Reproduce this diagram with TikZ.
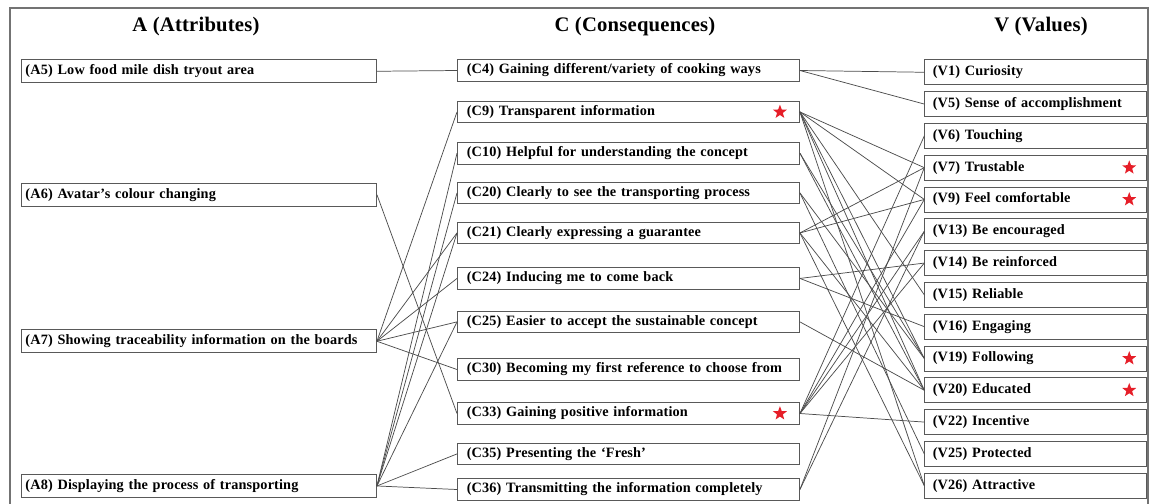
\documentclass[tikz,border=0pt]{standalone}
\usepackage{fontspec}
\setmainfont{Liberation Serif}[LetterSpace=1]
\usetikzlibrary{shapes.geometric}
\definecolor{starred}{RGB}{230,30,40}

\begin{document}
\begin{tikzpicture}[x=0.75pt,y=0.75pt,yscale=-1,xscale=1,
	box/.style={draw=black!65, line width=0.7pt, anchor=north west, align=left, font=\bfseries\fontsize{10.7}{12}\selectfont},
	abox/.style={box, inner xsep=3pt, text width=260.25pt, minimum height=17.25pt},
	cbox/.style={box, inner xsep=7pt, text width=242.5pt, minimum height=15pt},
	vbox/.style={box, inner xsep=6pt, text width=154.5pt, minimum height=18.75pt},
	hdr/.style={font=\bfseries\fontsize{15.5}{18}\selectfont},
	redstar/.style={star, star points=5, star point ratio=2.4, fill=starred, inner sep=0pt, minimum size=11pt},
	link/.style={draw=black!70, line width=0.55pt}]
	\useasboundingbox (0,0) rectangle (1152,503);

	%Frame
	\draw [black!55, line width=1pt] (10,520) -- (10,8) -- (1148,8) -- (1148,520) ;

	% Headers
	\node [hdr] (hA) at (196,27) {A (Attributes)};
	\node [hdr] (hC) at (635,27) {C (Consequences)};
	\node [hdr] (hV) at (1041,27) {V (Values)};

	% Attributes
	\node [abox] (A5) at (21,59.3) {(A5) Low food mile dish tryout area};
	\node [abox] (A6) at (21,182.7) {(A6) Avatar's colour changing};
	\node [abox] (A7) at (21,329.3) {(A7) Showing traceability information on the boards};
	\node [abox] (A8) at (21,474) {(A8) Displaying the process of transporting};

	% Consequences
	\node [cbox] (C4) at (457,59) {(C4) Gaining different/variety of cooking ways};
	\node [cbox] (C9) at (457,100.5) {(C9) Transparent information};
	\node [cbox] (C10) at (457,141.7) {(C10) Helpful for understanding the concept};
	\node [cbox] (C20) at (457,181.5) {(C20) Clearly to see the transporting process};
	\node [cbox] (C21) at (457,221.5) {(C21) Clearly expressing a guarantee};
	\node [cbox] (C24) at (457,267) {(C24) Inducing me to come back};
	\node [cbox] (C25) at (457,310.5) {(C25) Easier to accept the sustainable concept};
	\node [cbox] (C30) at (457,358) {(C30) Becoming my first reference to choose from};
	\node [cbox] (C33) at (457,402) {(C33) Gaining positive information};
	\node [cbox] (C35) at (457,442.5) {(C35) Presenting the `Fresh'};
	\node [cbox] (C36) at (457,478) {(C36) Transmitting the information completely};

	% Values
	\node [vbox] (V1) at (924.3,59.3) {(V1) Curiosity};
	\node [vbox] (V5) at (924.3,91.1) {(V5) Sense of accomplishment};
	\node [vbox] (V6) at (924.3,122.9) {(V6) Touching};
	\node [vbox] (V7) at (924.3,154.7) {(V7) Trustable};
	\node [vbox] (V9) at (924.3,186.5) {(V9) Feel comfortable};
	\node [vbox] (V13) at (924.3,218.3) {(V13) Be encouraged};
	\node [vbox] (V14) at (924.3,250.1) {(V14) Be reinforced};
	\node [vbox] (V15) at (924.3,281.9) {(V15) Reliable};
	\node [vbox] (V16) at (924.3,313.7) {(V16) Engaging};
	\node [vbox] (V19) at (924.3,345.5) {(V19) Following};
	\node [vbox] (V20) at (924.3,377.3) {(V20) Educated};
	\node [vbox] (V22) at (924.3,409.1) {(V22) Incentive};
	\node [vbox] (V25) at (924.3,440.9) {(V25) Protected};
	\node [vbox] (V26) at (924.3,472.7) {(V26) Attractive};

	% Stars
	\node [redstar] (sC9) at ([xshift=-15pt]C9.east) {};
	\node [redstar] (sC33) at ([xshift=-15pt]C33.east) {};
	\node [redstar] (sV7) at ([xshift=-13.5pt]V7.east) {};
	\node [redstar] (sV9) at ([xshift=-13.5pt]V9.east) {};
	\node [redstar] (sV19) at ([xshift=-13.5pt]V19.east) {};
	\node [redstar] (sV20) at ([xshift=-13.5pt]V20.east) {};

	% A -- C links
	\draw [link] (A5.east) -- (C4.west) ;
	\draw [link] (A6.east) -- (C33.west) ;
	\draw [link] (A7.east) -- (C9.west) ;
	\draw [link] (A7.east) -- (C21.west) ;
	\draw [link] (A7.east) -- (C24.west) ;
	\draw [link] (A7.east) -- (C25.west) ;
	\draw [link] (A7.east) -- (C30.west) ;
	\draw [link] (A8.east) -- (C10.west) ;
	\draw [link] (A8.east) -- (C20.west) ;
	\draw [link] (A8.east) -- (C21.west) ;
	\draw [link] (A8.east) -- (C25.west) ;
	\draw [link] (A8.east) -- (C35.west) ;
	\draw [link] (A8.east) -- (C36.west) ;

	% C -- V links
	\draw [link] (C4.east) -- (V1.west) ;
	\draw [link] (C4.east) -- (V5.west) ;
	\draw [link] (C9.east) -- (V7.west) ;
	\draw [link] (C9.east) -- (V9.west) ;
	\draw [link] (C9.east) -- (V15.west) ;
	\draw [link] (C9.east) -- (V19.west) ;
	\draw [link] (C9.east) -- (V20.west) ;
	\draw [link] (C9.east) -- (V26.west) ;
	\draw [link] (C10.east) -- (V19.west) ;
	\draw [link] (C10.east) -- (V20.west) ;
	\draw [link] (C20.east) -- (V19.west) ;
	\draw [link] (C20.east) -- (V25.west) ;
	\draw [link] (C21.east) -- (V7.west) ;
	\draw [link] (C21.east) -- (V9.west) ;
	\draw [link] (C21.east) -- (V20.west) ;
	\draw [link] (C21.east) -- (V26.west) ;
	\draw [link] (C24.east) -- (V14.west) ;
	\draw [link] (C24.east) -- (V16.west) ;
	\draw [link] (C25.east) -- (V20.west) ;
	\draw [link] (C33.east) -- (V6.west) ;
	\draw [link] (C33.east) -- (V9.west) ;
	\draw [link] (C33.east) -- (V13.west) ;
	\draw [link] (C33.east) -- (V14.west) ;
	\draw [link] (C33.east) -- (V22.west) ;
	\draw [link] (C36.east) -- (V7.west) ;
	\draw [link] (C36.east) -- (V13.west) ;
\end{tikzpicture}
\end{document}
